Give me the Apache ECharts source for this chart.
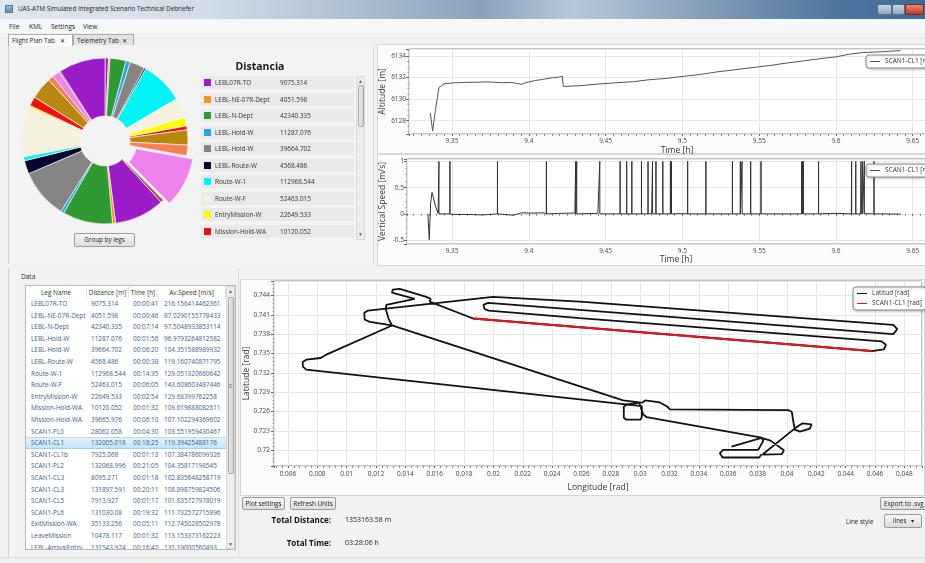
<!DOCTYPE html>
<html>
<head>
<meta charset="utf-8">
<title>UAS-ATM Simulated Integrated Scenario Technical Debriefer</title>
<script src="https://cdn.jsdelivr.net/npm/echarts@6.0.0/dist/echarts.min.js"></script>
<style>
  html, body { margin: 0; padding: 0; }
  body { width: 925px; height: 563px; overflow: hidden; position: relative; background: #f0f0f0;
         font-family: "Open Sans", "Noto Sans", sans-serif; color: #222; }
  .abs { position: absolute; }
  #titlebar { left: 0; top: 0; width: 925px; height: 19px;
    background: linear-gradient(90deg, #dfe7f0 0%, #d3dde9 22%, #aebfd2 38%, #8aa2bd 52%, #b8c8da 62%, #7d98b6 78%, #4f77a0 90%, #3f6a97 100%); }
  #titlebar .txt { left: 18px; top: 4px; font-size: 6.3px; color: #1a1a1a; white-space: nowrap; }
  #titlebar .ico { left: 5px; top: 5px; width: 8px; height: 8px; background: linear-gradient(#9fb6cf, #6a89ad); border: 1px solid #5d7593; box-sizing: border-box; }
  .wbtn { top: 4px; height: 11px; border: 1px solid #5b6f86; box-sizing: border-box; border-radius: 2px; }
  #menubar { left: 0; top: 19px; width: 925px; height: 14px; background: #f6f7f9; }
  #menubar span { position: absolute; top: 3px; font-size: 6.5px; color: #222; }
  #tabs { left: 0; top: 33px; width: 925px; height: 13px; background: #f0f0f0; border-bottom: 1px solid #c8c8c8; }
  .tab { top: 1px; height: 11px; line-height: 11px; font-size: 6.3px; color: #222; padding-left: 3px; box-sizing: border-box; border: 1px solid #acacac; border-bottom: none; white-space: nowrap; }
  #content { left: 0; top: 46px; width: 925px; height: 511px; background: #f2f2f2; }
  #pieFrame { left: 8px; top: 46px; width: 364px; height: 218px; background: #f3f3f3; border-right: 1px solid #dcdcdc; border-left: 1px solid #cfcfcf; }
  #pie { left: 8px; top: 46px; width: 190px; height: 186px; }
  #distTitle { left: 182px; top: 59px; width: 156px; text-align: center; font-size: 10.5px; font-weight: bold; color: #1b1b1b; }
  #legendRows { left: 201px; top: 76px; width: 153px; height: 164px; overflow: hidden; }
  .lrow { position: absolute; left: 0; width: 153px; height: 13px; background: #e9e9e9; font-size: 6.4px; color: #333; }
  .lrow .sw { position: absolute; left: 3px; top: 3px; width: 7px; height: 7px; }
  .lrow .ln { position: absolute; left: 14px; top: 2px; white-space: nowrap; }
  .lrow .lv { position: absolute; left: 79px; top: 2px; white-space: nowrap; }
  .sbar { background: #ececec; border: 1px solid #dadada; box-sizing: border-box; }
  .sthumb { background: linear-gradient(90deg, #e9e9e9, #d4d4d4); border: 1px solid #a8a8a8; box-sizing: border-box; border-radius: 2px; }
  .sarrow { font-size: 5px; color: #666; text-align: center; width: 100%; }
  .btn { background: linear-gradient(#f6f6f6, #dedede); border: 1px solid #9a9a9a; border-radius: 2px; box-sizing: border-box;
         font-size: 6.3px; color: #222; text-align: center; white-space: nowrap; overflow: hidden; }
  .chartBox { background: #fcfcfc; border: 1px solid #d6d6d6; box-sizing: border-box; }
  #dataLbl { left: 21px; top: 272px; font-size: 6.5px; color: #333; }
  #groupBox { left: 8px; top: 268px; width: 231px; height: 289px; border-left: 1px solid #cfcfcf; border-right: 1px solid #dadada; box-sizing: border-box; }
  #tableBox { left: 25px; top: 285px; width: 211px; height: 265px; border: 1px solid #b9b9b9; background: #fff; overflow: hidden; box-sizing: border-box; }
  .th { position: absolute; top: 1px; height: 11px; line-height: 11px; font-size: 6.4px; color: #333; text-align: center; border-right: 1px solid #e2e2e2; box-sizing: border-box; white-space: nowrap; }
  .tr { position: absolute; left: 0; width: 200px; height: 11.6px; line-height: 11.6px; font-size: 6.4px; color: #3e5c88; white-space: nowrap; }
  .tr span { position: absolute; top: 0; }
  .tr.sel { background: linear-gradient(#e3f2fc, #c5e4f7); border-top: 1px solid #b7dcf3; border-bottom: 1px solid #9fd0ef; box-sizing: border-box; line-height: 9.6px; }
  .lbl { font-size: 7px; color: #222; white-space: nowrap; }
  .bold { font-weight: bold; font-size: 8px; color: #111; }
</style>
</head>
<body>
<div id="titlebar" class="abs">
  <div class="ico abs"></div>
  <div class="txt abs">UAS-ATM Simulated Integrated Scenario Technical Debriefer</div>
  <div class="wbtn abs" style="left:877px;width:15px;background:linear-gradient(#c9d6e4,#8fa6bf)"></div>
  <div class="wbtn abs" style="left:892px;width:13px;background:linear-gradient(#c9d6e4,#8fa6bf)"></div>
  <div class="wbtn abs" style="left:905px;width:19px;background:linear-gradient(#e58a78,#c0392b);border-color:#7a2a20"></div>
</div>
<div id="menubar" class="abs">
  <span style="left:9px">File</span><span style="left:29px">KML</span><span style="left:51px">Settings</span><span style="left:83px">View</span>
</div>
<div id="tabs" class="abs">
  <div class="tab abs" style="left:8px;width:65px;background:#fbfbfb;height:13px">Flight Plan Tab &nbsp; ✕</div>
  <div class="tab abs" style="left:73px;width:61px;background:#e3e3e3">Telemetry Tab &nbsp;✕</div>
</div>
<div id="content" class="abs"></div>

<div id="pieFrame" class="abs"></div>
<div id="pie" class="abs"></div>
<div class="btn abs" style="left:74px;top:233px;width:61px;height:14px;line-height:12px">Group by legs</div>
<div id="distTitle" class="abs">Distancia</div>
<div id="legendRows" class="abs"></div>
<div class="sbar abs" style="left:356px;top:76px;width:9px;height:164px">
  <div class="sarrow abs" style="top:1px">▲</div>
  <div class="sthumb abs" style="left:1px;top:8px;width:6px;height:42px"></div>
  <div class="sarrow abs" style="top:154px">▼</div>
</div>

<div class="chartBox abs" style="left:377px;top:44px;width:560px;height:110px"></div>
<div class="chartBox abs" style="left:377px;top:154px;width:560px;height:112px"></div>
<div id="alt" class="abs" style="left:356px;top:34px;width:594px;height:124px"></div>
<div id="vs" class="abs" style="left:356px;top:150px;width:594px;height:120px"></div>

<div id="groupBox" class="abs"></div>
<div id="dataLbl" class="abs">Data</div>
<div id="tableBox" class="abs">
  <div class="th" style="left:0;width:61px">Leg Name</div>
  <div class="th" style="left:61px;width:42px">Distance [m]</div>
  <div class="th" style="left:103px;width:29px">Time [h]</div>
  <div class="th" style="left:132px;width:68px">Av.Speed [m/s]</div>
  <div class="sbar abs" style="left:200px;top:0;width:9px;height:263px">
    <div class="sarrow abs" style="top:1px">▲</div>
    <div class="sthumb abs" style="left:1px;top:10px;width:6px;height:177px"></div>
    <div class="sarrow abs" style="top:95px;font-size:6px">≡</div>
    <div class="sarrow abs" style="top:254px">▼</div>
  </div>
</div>

<div class="chartBox abs" style="left:240px;top:279px;width:685px;height:217px"></div>
<div id="track" class="abs" style="left:226px;top:279px;width:699px;height:222px"></div>

<div class="btn abs" style="left:242px;top:497px;width:43px;height:13px;line-height:11px">Plot settings</div>
<div class="btn abs" style="left:290px;top:497px;width:46px;height:13px;line-height:11px">Refresh Units</div>
<div class="btn abs" style="left:880px;top:497px;width:50px;height:13px;line-height:11px;text-align:left;padding-left:3px">Export to .svg</div>
<div class="abs bold" style="left:230px;top:514px;width:101px;text-align:right">Total Distance:</div>
<div id="totDist" class="abs lbl" style="left:345px;top:515px"></div>
<div class="abs bold" style="left:230px;top:537px;width:101px;text-align:right">Total Time:</div>
<div id="totTime" class="abs lbl" style="left:345px;top:538px"></div>
<div class="abs lbl" style="left:846px;top:517px;font-size:6.3px">Line style</div>
<div class="btn abs" style="left:884px;top:514px;width:38px;height:14px;line-height:12px;text-align:left;padding-left:8px">lines &nbsp; ▾</div>
<div class="abs" style="left:0;top:557px;width:925px;height:1px;background:#d8d8d8"></div>

<script>
const FONT = '"Open Sans", "Noto Sans", sans-serif';
const LINE_ICON = 'path://M0,4 L20,4 L20,6 L0,6 Z';

// legs (table + pie); the last seven are below the table's scroll position
const legNames = ['LEBL07R-TO', 'LEBL-NE-07R-Dept', 'LEBL-N-Dept', 'LEBL-Hold-W', 'LEBL-Hold-W', 'LEBL-Route-W',
  'Route-W-1', 'Route-W-F', 'EntryMission-W', 'Mission-Hold-WA', 'Mission-Hold-WA', 'SCAN1-PL0', 'SCAN1-CL1',
  'SCAN1-CL1b', 'SCAN1-PL2', 'SCAN1-CL3', 'SCAN1-CL3', 'SCAN1-CL5', 'SCAN1-PL6', 'ExitMission-WA', 'LeaveMission',
  'LEBL-ArrivalEntry', 'LEBL-Arrival-1', 'LEBL-Arrival-2', 'LEBL-Arrival-Hold', 'LEBL-Arrival-3', 'LEBL-Approach',
  'LEBL-Final', 'LEBL25L-Land'];
const legDistances = [9075.314, 4051.598, 42340.335, 11287.076, 39664.702, 4568.486, 112968.544, 52463.015,
  22649.533, 10120.052, 39665.976, 28062.058, 132005.018, 7925.068, 132068.996, 8095.271, 131897.591, 7913.927,
  131030.08, 35133.256, 10478.117, 131543.974, 5200, 24500, 58000, 14500, 19500, 3500, 122955.593];
const legTimes = ['00:00:41', '00:00:46', '00:07:14', '00:01:56', '00:06:20', '00:00:38', '00:14:35', '00:06:05',
  '00:02:54', '00:01:32', '00:06:10', '00:04:30', '00:18:25', '00:01:13', '00:21:05', '00:01:18', '00:20:11',
  '00:01:17', '00:19:32', '00:05:11', '00:01:32', '00:16:42'];
const legSpeeds = ['216.156414462361', '87.0290155778433', '97.5048933853114', '96.9793264812582',
  '104.351588989932', '119.160740871795', '129.051320660642', '143.608603487446', '129.68399762258',
  '109.619888082611', '107.102294369602', '103.551959430467', '119.39425488176', '107.384786099326',
  '104.35817198545', '102.835648258719', '108.898759824506', '101.635727978019', '111.732572715896',
  '112.745028502978', '113.153373162223', '131.19000560493'];
const legColors = ['#9b1bc6', '#f7931e', '#2f9a34', '#27a4e3', '#848484', '#05052e', '#00f4f4', '#f4f1dc',
  '#ffff00', '#ee1111', '#b8870f', '#f77e55', '#ee83ee', '#a0522d'];
const selectedLeg = 12;
const totalDistance = '1353163.58 m';
const totalTime = '03:28:06 h';

// SCAN1-CL1 altitude [m] against time [h]
const altTimes = [9.3359, 9.3374, 9.3392, 9.3415, 9.3448, 9.3505, 9.3580, 9.3662, 9.3740, 9.3820, 9.3886, 9.3925,
  9.3953, 9.3976, 9.4043, 9.4100, 9.4155, 9.4200, 9.4218, 9.4225, 9.4260, 9.4334, 9.4450, 9.4559, 9.4680, 9.4783,
  9.4900, 9.5007, 9.5120, 9.5232, 9.5340, 9.5456, 9.5570, 9.5680, 9.5790, 9.5905, 9.6000, 9.6084, 9.6174, 9.6300,
  9.6420];
const altValues = [6128.72, 6127.04, 6128.98, 6131.09, 6131.41, 6131.51, 6131.55, 6131.57, 6131.6, 6131.52,
  6131.55, 6131.45, 6131.38, 6131.52, 6131.73, 6131.85, 6131.99, 6132.05, 6132.12, 6131.18, 6131.2, 6131.25,
  6131.4, 6131.51, 6131.62, 6131.8, 6131.93, 6132.12, 6132.3, 6132.54, 6132.72, 6132.93, 6133.12, 6133.35,
  6133.55, 6133.77, 6133.92, 6134.16, 6134.32, 6134.4, 6134.5];

// SCAN1-CL1 vertical speed [m/s]: baseline samples plus the single-sample jumps to 1
const vsTimes = [9.3343, 9.3352, 9.3354, 9.3361, 9.3370, 9.3381, 9.3392, 9.3410, 9.3426, 9.3500, 9.3600, 9.3700,
  9.3800, 9.3900, 9.3953, 9.4000, 9.4100, 9.4200, 9.4300, 9.4450, 9.4600, 9.4800, 9.5000, 9.5200, 9.5400, 9.5600,
  9.5800, 9.5900, 9.6000, 9.6100, 9.6200, 9.6300, 9.6421];
const vsValues = [0, -0.49, -0.51, 0.21, 0.41, 0.38, 0.15, 0.01, 0, -0.01, -0.01, -0.02, -0.02, -0.025, 0.02,
  0.015, 0.02, 0.01, 0.015, 0.01, 0.005, 0.01, 0.005, 0, 0.005, 0, 0.02, 0, 0.01, 0, 0.005, 0, -0.005];
const vsSpikeTimes = [9.34148, 9.34865, 9.37961, 9.41146, 9.43053, 9.4312, 9.44623, 9.45947, 9.46373, 9.46709,
  9.47337, 9.47764, 9.48055, 9.4828, 9.48728, 9.49222, 9.49289, 9.50343, 9.51532, 9.53259, 9.53775, 9.53887,
  9.54448, 9.55121, 9.57768, 9.57835, 9.5788, 9.58867, 9.61021, 9.6129, 9.61626, 9.61738, 9.6185, 9.62478];
const vsSpikeValue = 1;

// flown track, longitude / latitude [rad]
const trackLon = [0.036223, 0.038268, 0.038881, 0.03979, 0.039654, 0.038336, 0.04054, 0.041062, 0.041676,
  0.041562, 0.04088, 0.04054, 0.040426, 0.040335, 0.040085, 0.032019, 0.031837, 0.031337, 0.030338, 0.030156,
  0.03011, 0.029065, 0.028883, 0.028883, 0.029065, 0.030019, 0.03011, 0.03011, 0.00725, 0.007022, 0.007,
  0.00725, 0.008227, 0.008613, 0.01309, 0.011567, 0.011226, 0.011203, 0.011453, 0.019974, 0.025884, 0.047243,
  0.047515, 0.047243, 0.025884, 0.019633, 0.019315, 0.019406, 0.019679, 0.025884, 0.046448, 0.046743, 0.046607,
  0.045766, 0.018611, 0.015657, 0.015725, 0.01543, 0.013612, 0.013135, 0.013089, 0.014634, 0.012703, 0.012658,
  0.012862, 0.01309, 0.028838, 0.029929, 0.030201, 0.030428, 0.038268, 0.038381, 0.03804, 0.035654, 0.035427,
  0.035609, 0.038108, 0.038268];
const trackLat = [0.720547, 0.721888, 0.721475, 0.719981, 0.719362, 0.71931, 0.723382, 0.724156, 0.724001,
  0.723331, 0.722867, 0.723176, 0.724516, 0.725908, 0.726217, 0.72632, 0.726784, 0.727403, 0.727712, 0.727403,
  0.727094, 0.727094, 0.726733, 0.725032, 0.724723, 0.724723, 0.725135, 0.726836, 0.732506, 0.73297, 0.733691,
  0.734052, 0.73431, 0.734825, 0.739361, 0.739928, 0.740289, 0.74132, 0.741681, 0.743794, 0.743072, 0.739464,
  0.738794, 0.738021, 0.741784, 0.742866, 0.742557, 0.741887, 0.741681, 0.740495, 0.736887, 0.736371, 0.73565,
  0.735392, 0.740443, 0.743072, 0.743485, 0.743794, 0.745031, 0.744928, 0.744464, 0.743485, 0.742557, 0.741938,
  0.740392, 0.739361, 0.727712, 0.727403, 0.725547, 0.725135, 0.721939, 0.721424, 0.720032, 0.720032, 0.719517,
  0.718847, 0.718847, 0.719362];
// the selected leg on the track
const scanLon = [0.018611, 0.045766];
const scanLat = [0.740443, 0.735392];

// ---------- legend list and table ----------
const legendBox = document.getElementById('legendRows');
legNames.forEach((name, i) => {
  const row = document.createElement('div');
  row.className = 'lrow';
  row.style.top = (i * 16.5) + 'px';
  row.innerHTML = '<span class="sw" style="background:' + legColors[i % legColors.length] + '"></span>' +
    '<span class="ln">' + name + '</span><span class="lv">' + legDistances[i] + '</span>';
  legendBox.appendChild(row);
});

const tableBox = document.getElementById('tableBox');
legTimes.forEach((t, i) => {
  const row = document.createElement('div');
  row.className = 'tr' + (i === selectedLeg ? ' sel' : '');
  row.style.top = (12 + i * 11.6) + 'px';
  row.innerHTML = '<span style="left:5px">' + legNames[i] + '</span><span style="left:65px">' + legDistances[i] +
    '</span><span style="left:107px">' + t + '</span><span style="left:138px">' + legSpeeds[i] + '</span>';
  tableBox.insertBefore(row, tableBox.firstChild);
});
document.getElementById('totDist').textContent = totalDistance;
document.getElementById('totTime').textContent = totalTime;

// ---------- pie ----------
const pieChart = echarts.init(document.getElementById('pie'));
pieChart.setOption({
  animation: false,
  color: legColors,
  series: [{
    type: 'pie',
    center: [97, 95],
    radius: [25, 83],
    startAngle: 90,
    selectedMode: 'single',
    selectedOffset: 7,
    label: { show: false },
    labelLine: { show: false },
    itemStyle: { borderColor: '#f3f3f3', borderWidth: 0.7 },
    data: legNames.map((n, i) => ({ name: n + ' ' + i, value: legDistances[i], selected: i === selectedLeg }))
  }]
});

// ---------- time plots ----------
function timeAxis(min, gap) {
  return {
    type: 'value', min: min, max: 9.671, minInterval: 0.05, maxInterval: 0.05,
    name: 'Time [h]', nameLocation: 'middle', nameGap: gap, nameMoveOverlap: false,
    nameTextStyle: { fontSize: 8.5, color: '#333', fontFamily: FONT },
    axisLine: { show: false },
    axisTick: { show: true, length: 2, lineStyle: { color: '#666' } },
    minorTick: { show: true, splitNumber: 10, length: 2, lineStyle: { color: '#888' } },
    splitLine: { show: true, lineStyle: { color: '#e6e6e6' } },
    axisLabel: { fontSize: 6.5, color: '#444', margin: 4, fontFamily: FONT, showMinLabel: false, showMaxLabel: false }
  };
}
function valueAxis(name, min, max, step, gap) {
  return {
    type: 'value', min: min, max: max, minInterval: step, maxInterval: step,
    name: name, nameLocation: 'middle', nameGap: gap, nameMoveOverlap: false,
    nameTextStyle: { fontSize: 8.5, color: '#333', fontFamily: FONT },
    axisLine: { show: false },
    axisTick: { show: true, length: 3, lineStyle: { color: '#666' } },
    minorTick: { show: true, splitNumber: 4, length: 1.5, lineStyle: { color: '#999' } },
    splitLine: { show: true, lineStyle: { color: '#e6e6e6' } },
    axisLabel: { fontSize: 6.5, color: '#444', margin: 3, fontFamily: FONT, showMinLabel: false, showMaxLabel: false,
      formatter: v => String(v) }
  };
}
function timeLegend(label, top) {
  return {
    left: 510, top: top, data: [{ name: label, icon: LINE_ICON }], itemWidth: 10, itemHeight: 4, padding: [3, 6, 3, 4],
    backgroundColor: '#fff', borderColor: '#8c8c8c', borderWidth: 1, borderRadius: 3,
    shadowColor: 'rgba(0,0,0,0.25)', shadowBlur: 3, shadowOffsetX: 1, shadowOffsetY: 1,
    textStyle: { fontSize: 6.5, color: '#333', fontFamily: FONT }
  };
}

const altChart = echarts.init(document.getElementById('alt'));
altChart.setOption({
  animation: false,
  grid: { left: 53, right: 5, top: 15, bottom: 24, outerBoundsMode: 'none', containLabel: false,
    show: true, backgroundColor: '#fff', borderColor: '#8a8a8a', borderWidth: 1 },
  xAxis: timeAxis(9.322, 12),
  yAxis: valueAxis('Altitude [m]', 6126.77, 6134.65, 2, 22),
  legend: timeLegend('SCAN1-CL1 [m]', 21),
  series: [{
    name: 'SCAN1-CL1 [m]', type: 'line', showSymbol: false, symbol: 'none',
    lineStyle: { color: '#555', width: 1 }, itemStyle: { color: '#555' },
    data: altTimes.map((t, i) => [t, altValues[i]])
  }]
});

const vsPoints = vsTimes.map((t, i) => [t, vsValues[i]]);
vsSpikeTimes.forEach(t => {
  vsPoints.push([t - 0.00004, 0], [t, vsSpikeValue], [t + 0.00004, 0]);
});
vsPoints.sort((a, b) => a[0] - b[0]);

const vsChart = echarts.init(document.getElementById('vs'));
vsChart.setOption({
  animation: false,
  grid: { left: 51, right: 5, top: 9, bottom: 26, outerBoundsMode: 'none', containLabel: false,
    show: true, backgroundColor: '#fff', borderColor: '#8a8a8a', borderWidth: 1 },
  xAxis: timeAxis(9.3207, 11),
  yAxis: valueAxis('Vertical Speed [m/s]', -0.574, 1.046, 0.5, 20),
  legend: timeLegend('SCAN1-CL1 [m/s]', 14),
  series: [{
    name: 'SCAN1-CL1 [m/s]', type: 'line', showSymbol: false, symbol: 'none',
    lineStyle: { color: '#333', width: 1 }, itemStyle: { color: '#444' },
    data: vsPoints
  }]
});

// ---------- track ----------
const trackChart = echarts.init(document.getElementById('track'));
trackChart.setOption({
  animation: false,
  grid: { left: 48, right: 3, top: 2, bottom: 35, outerBoundsMode: 'none', containLabel: false,
    show: true, backgroundColor: '#fff', borderColor: '#8a8a8a', borderWidth: 1 },
  xAxis: {
    type: 'value', min: 0.00505, max: 0.0492, minInterval: 0.002, maxInterval: 0.002,
    name: 'Longitude [rad]', nameLocation: 'middle', nameGap: 17, nameMoveOverlap: false,
    nameTextStyle: { fontSize: 8.5, color: '#333', fontFamily: FONT },
    axisLine: { show: false },
    axisTick: { show: true, length: 2, lineStyle: { color: '#666' } },
    minorTick: { show: true, splitNumber: 5, length: 2, lineStyle: { color: '#888' } },
    splitLine: { show: true, lineStyle: { color: '#e6e6e6' } },
    axisLabel: { fontSize: 6.5, color: '#444', margin: 5, fontFamily: FONT, showMinLabel: false, showMaxLabel: false }
  },
  yAxis: {
    type: 'value', min: 0.71753, max: 0.74627, minInterval: 0.003, maxInterval: 0.003,
    name: 'Latitude [rad]', nameLocation: 'middle', nameGap: 23, nameMoveOverlap: false,
    nameTextStyle: { fontSize: 8.5, color: '#333', fontFamily: FONT },
    axisLine: { show: false },
    axisTick: { show: true, length: 3, lineStyle: { color: '#666' } },
    minorTick: { show: true, splitNumber: 5, length: 1.5, lineStyle: { color: '#999' } },
    splitLine: { show: true, lineStyle: { color: '#e6e6e6' } },
    axisLabel: { fontSize: 6.5, color: '#444', margin: 4, fontFamily: FONT, showMinLabel: false, showMaxLabel: false }
  },
  legend: {
    orient: 'vertical', left: 627, top: 8, itemWidth: 10, itemHeight: 5, itemGap: 3, padding: [3, 4, 3, 4],
    backgroundColor: '#fff', borderColor: '#8c8c8c', borderWidth: 1, borderRadius: 3,
    shadowColor: 'rgba(0,0,0,0.25)', shadowBlur: 3, shadowOffsetX: 1, shadowOffsetY: 1,
    textStyle: { fontSize: 6.5, color: '#333', fontFamily: FONT },
    data: [{ name: 'Latitud [rad]', icon: LINE_ICON }, { name: 'SCAN1-CL1 [rad]', icon: LINE_ICON }]
  },
  series: [{
    name: 'Latitud [rad]', type: 'line', showSymbol: false, symbol: 'none',
    lineStyle: { color: '#111', width: 1.8 }, itemStyle: { color: '#111' },
    data: trackLon.map((x, i) => [x, trackLat[i]])
  }, {
    name: 'SCAN1-CL1 [rad]', type: 'line', showSymbol: false, symbol: 'none',
    lineStyle: { color: '#e8141b', width: 2.2 }, itemStyle: { color: '#e8141b' },
    data: scanLon.map((x, i) => [x, scanLat[i]])
  }]
});
</script>
</body>
</html>
